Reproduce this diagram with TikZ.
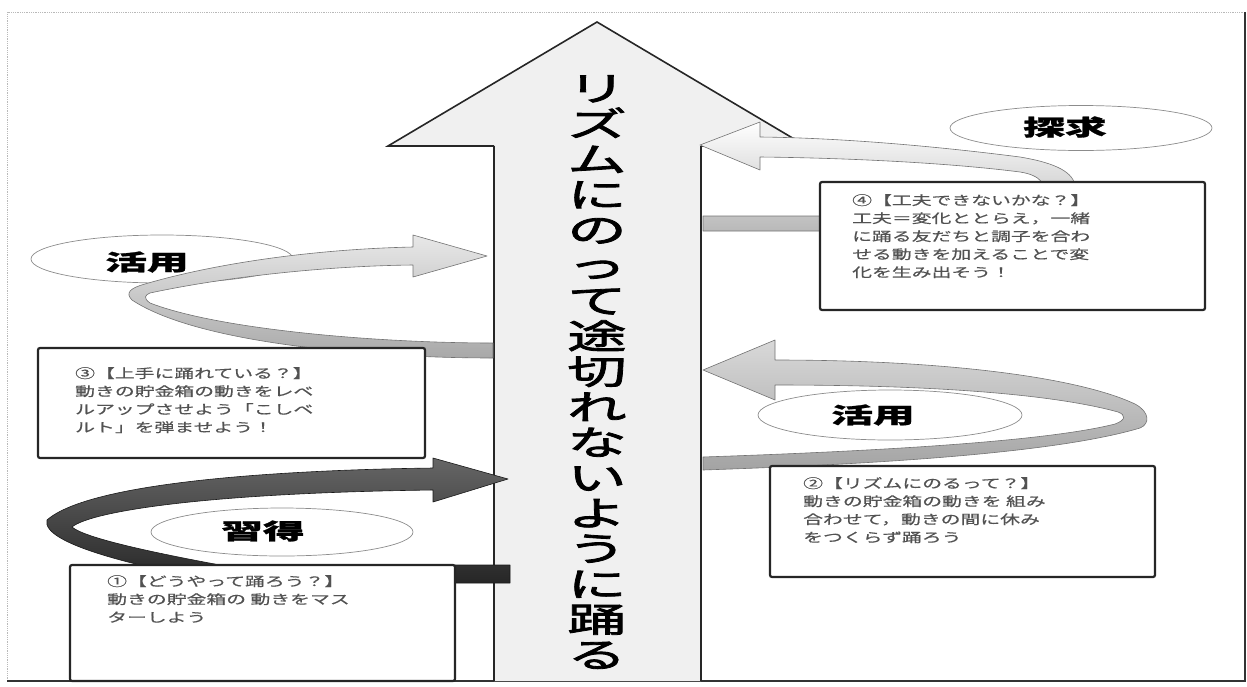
\documentclass[tikz,border=0pt]{standalone}
\usepackage{fontspec}
\usetikzlibrary{shapes.geometric}
\newfontfamily\jpbox[FakeStretch=1.55,FakeBold=0.6]{Noto Sans CJK JP}
\newfontfamily\jptitle[FakeStretch=1.75,FakeBold=2.4]{Noto Sans CJK JP}
\newfontfamily\jplabel[FakeStretch=1.9,BoldFeatures={FakeBold=1.2}]{Noto Sans CJK JP}
\begin{document}
\begin{tikzpicture}[x=1pt,y=-1pt,
  boxstyle/.style={draw=black!85, line width=2.2pt, fill=white, rounded corners=2pt},
  ovalstyle/.style={ellipse, draw=black!45, line width=0.7pt, fill=white, inner sep=0pt, minimum width=262pt, minimum height=48pt},
  boxtext/.style={anchor=north west, inner sep=0pt, align=left, text=black!68, font=\jpbox\fontsize{12.8}{18}\selectfont},
  labeltext/.style={inner sep=0pt, font=\jplabel\bfseries\fontsize{22}{22}\selectfont},
  ribbonedge/.style={draw=black!55, line width=0.6pt, line join=round},
  titlestyle/.style={inner sep=0pt, align=center, font=\jptitle\fontsize{34}{35.4}\selectfont}
]
\useasboundingbox (0,0) rectangle (1247,686);
% frame
\draw[gray!55, densely dotted, line width=0.8pt] (7,681) -- (7,12) -- (1245,12);
\draw[black!80, line width=1.3pt] (7,681) -- (1245,681) -- (1245,12);

% big arrow
\fill[black!6] (494,681) -- (494,146) -- (388,146) -- (597,22) -- (806,146) -- (701,146) -- (701,681) -- cycle;
\draw[black!85, line width=1.6pt, line join=miter] (494,146) -- (388,146) -- (597,22) -- (806,146) -- (701,146);
\draw[black!85, line width=2.6pt] (494,146) -- (494,681);
\draw[black!85, line width=2.6pt] (701,146) -- (701,681);

% oval under ribbon
\node[ovalstyle] (ovA) at (162,259) {};

% ribbon: katsuyo left
\path[ribbonedge, top color=gray!18, bottom color=gray!68]
  (493,343) -- (493,358) .. controls (380,358) and (200,345) .. (132,300)
  .. controls (125,293) and (130,288) .. (145,284)
  .. controls (220,262) and (320,249) .. (413,247) -- (413,235) -- (487,256) -- (413,277) -- (413,265)
  .. controls (320,266) and (220,278) .. (150,293)
  .. controls (145,295) and (143,298) .. (150,303)
  .. controls (220,330) and (380,343) .. (493,343) -- cycle;

% ribbon: shutoku
\path[ribbonedge, draw=black!90, top color=black!60, bottom color=black!88]
  (510,565) -- (455,565) .. controls (380,572) and (300,578) .. (220,565)
  .. controls (150,552) and (85,538) .. (72,527)
  .. controls (90,512) and (200,493) .. (433,490) -- (433,502) -- (508,479) -- (433,458) -- (433,468)
  .. controls (280,470) and (90,482) .. (47,520)
  .. controls (40,545) and (150,570) .. (240,585)
  .. controls (330,598) and (420,583) .. (455,583) -- (510,583) -- cycle;

% ribbon: katsuyo right
\path[ribbonedge, top color=gray!30, bottom color=gray!72]
  (703,457) -- (703,470) .. controls (850,465) and (1050,455) .. (1140,428)
  .. controls (1150,424) and (1150,412) .. (1135,404)
  .. controls (1080,378) and (950,360) .. (775,360) -- (775,340) -- (703,370) -- (775,400) -- (775,385)
  .. controls (950,385) and (1060,396) .. (1118,412)
  .. controls (1126,415) and (1126,420) .. (1115,424)
  .. controls (1040,443) and (850,452) .. (703,457) -- cycle;

% ribbon: tankyu
\path[ribbonedge, top color=white, bottom color=gray!55]
  (703,216) -- (703,231) -- (900,231) .. controls (1000,230) and (1080,215) .. (1075,185)
  .. controls (1072,170) and (1050,162) .. (1020,157)
  .. controls (950,148) and (850,138) .. (760,137) -- (760,122) -- (700,145) -- (760,170) -- (760,157)
  .. controls (850,158) and (950,163) .. (1020,172)
  .. controls (1040,175) and (1050,185) .. (1040,200)
  .. controls (1020,215) and (950,216) .. (900,216) -- cycle;

% ovals on top
\node[ovalstyle] (ovB) at (282,532) {};
\node[ovalstyle, minimum width=264pt, minimum height=50pt] (ovC) at (890,415) {};
\node[ovalstyle, minimum height=45pt] (ovD) at (1081,128) {};

% labels
\node[labeltext] (labA) at (147,262) {活用};
\node[labeltext] (labB) at (263,531) {習得};
\node[labeltext] (labC) at (873,415) {活用};
\node[labeltext] (labD) at (1065,127) {探求};

% boxes
\draw[boxstyle] (38,348) rectangle (425,458);
\draw[boxstyle] (70,565) rectangle (455,681);
\draw[boxstyle] (770,466) rectangle (1155,577);
\draw[boxstyle] (820,182) rectangle (1205,310);

\node[boxtext] (t3) at (75,367) {③【上手に踊れている？】\\動きの貯金箱の動きをレベ\\ルアップさせよう「こしベ\\ルト」を弾ませよう！};
\node[boxtext] (t1) at (107,575) {①【どうやって踊ろう？】\\動きの貯金箱の 動きをマス\\ターしよう};
\node[boxtext] (t2) at (803,477) {②【リズムにのるって？】\\動きの貯金箱の動きを 組み\\合わせて，動きの間に休み\\をつくらず踊ろう};
\node[boxtext] (t4) at (852,194) {④【工夫できないかな？】\\工夫＝変化ととらえ，一緒\\に踊る友だちと調子を合わ\\せる動きを加えることで変\\化を生み出そう！};

% title
\node[titlestyle] (title) at (597,372) {リ\\ズ\\ム\\に\\の\\っ\\て\\途\\切\\れ\\な\\い\\よ\\う\\に\\踊\\る};
\end{tikzpicture}
\end{document}
